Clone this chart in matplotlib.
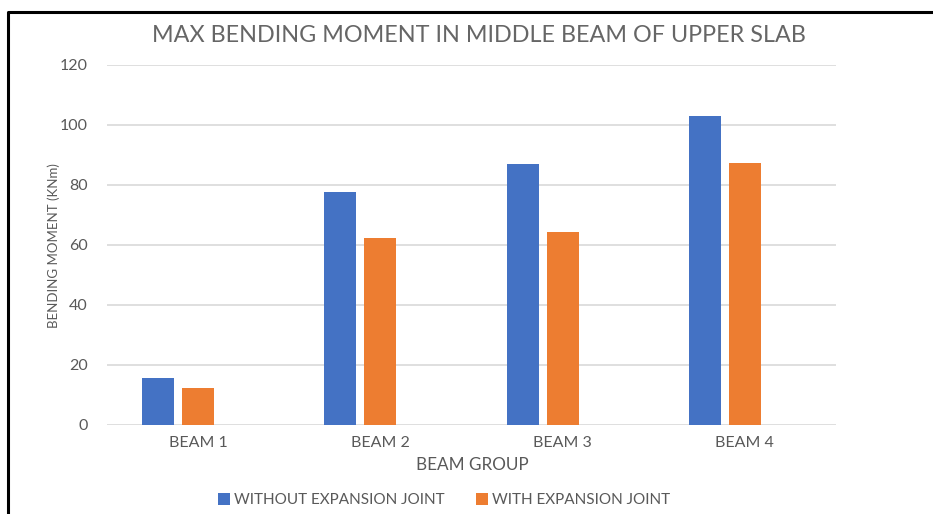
import matplotlib
matplotlib.use("Agg")
import matplotlib.pyplot as plt
from matplotlib.lines import Line2D
from matplotlib.patches import Patch
import numpy as np

plt.rcParams['font.family'] = ['Lato', 'DejaVu Sans']

categories = ["BEAM 1", "BEAM 2", "BEAM 3", "BEAM 4"]
without_joint = [15.6, 77.7, 87.0, 103.0]
with_joint = [12.3, 62.3, 64.3, 87.2]
y_ticks = [0, 20, 40, 60, 80, 100, 120]

series_names = ["WITHOUT EXPANSION JOINT", "WITH EXPANSION JOINT"]
colors = ["#4472C4", "#ED7D31"]
text_gray = "#595959"

W, H = 933, 514
fig = plt.figure(figsize=(W / 100, H / 100), dpi=100)
ax = fig.add_axes([107 / W, 1 - 425 / H, (836 - 107) / W, (425 - 65) / H])

x = np.arange(len(categories))
bar_w = 32 / 182
step = 40 / 182
ax.bar(x - step, without_joint, width=bar_w, color=colors[0], zorder=3)
ax.bar(x, with_joint, width=bar_w, color=colors[1], zorder=3)

ax.set_xlim(-0.5, len(categories) - 0.5)
ax.set_ylim(0, 120)
ax.set_yticks(y_ticks)
ax.set_xticks(x)
ax.set_xticklabels(categories)
ax.tick_params(axis='both', length=0, colors=text_gray, labelsize=11.5)
ax.tick_params(axis='y', pad=14)
ax.tick_params(axis='x', pad=8)
ax.grid(axis='y', color="#D9D9D9", linewidth=1.2, zorder=0)
for s in ax.spines.values():
    s.set_visible(False)

fig.text(479 / W, 1 - 36 / H, "MAX BENDING MOMENT IN MIDDLE BEAM OF UPPER SLAB",
         ha='center', va='center', fontsize=16.8, color="#666666")
fig.text(54 / W, 1 - 246 / H, "BENDING MOMENT (KNm)", rotation=90,
         ha='center', va='center', fontsize=9.5, color=text_gray)
fig.text(472 / W, 1 - 465 / H, "BEAM GROUP", ha='center', va='center',
         fontsize=12.3, color=text_gray)

handles = [Patch(facecolor=c, edgecolor='none') for c in colors]
fig.legend(handles, series_names, loc='center', ncol=2,
           bbox_to_anchor=(444 / W, 1 - 500 / H), frameon=False,
           fontsize=11, handlelength=0.8, handleheight=0.8,
           handletextpad=0.3, columnspacing=2.0, labelcolor=text_gray)

# outer frame: left edge and top edge as one open polyline
fig.add_artist(Line2D([8 / W, 8 / W, 1.0], [0.0, 1 - 12 / H, 1 - 12 / H],
                      color='black', linewidth=2.2,
                      transform=fig.transFigure))

fig.savefig("out.png", dpi=100)
